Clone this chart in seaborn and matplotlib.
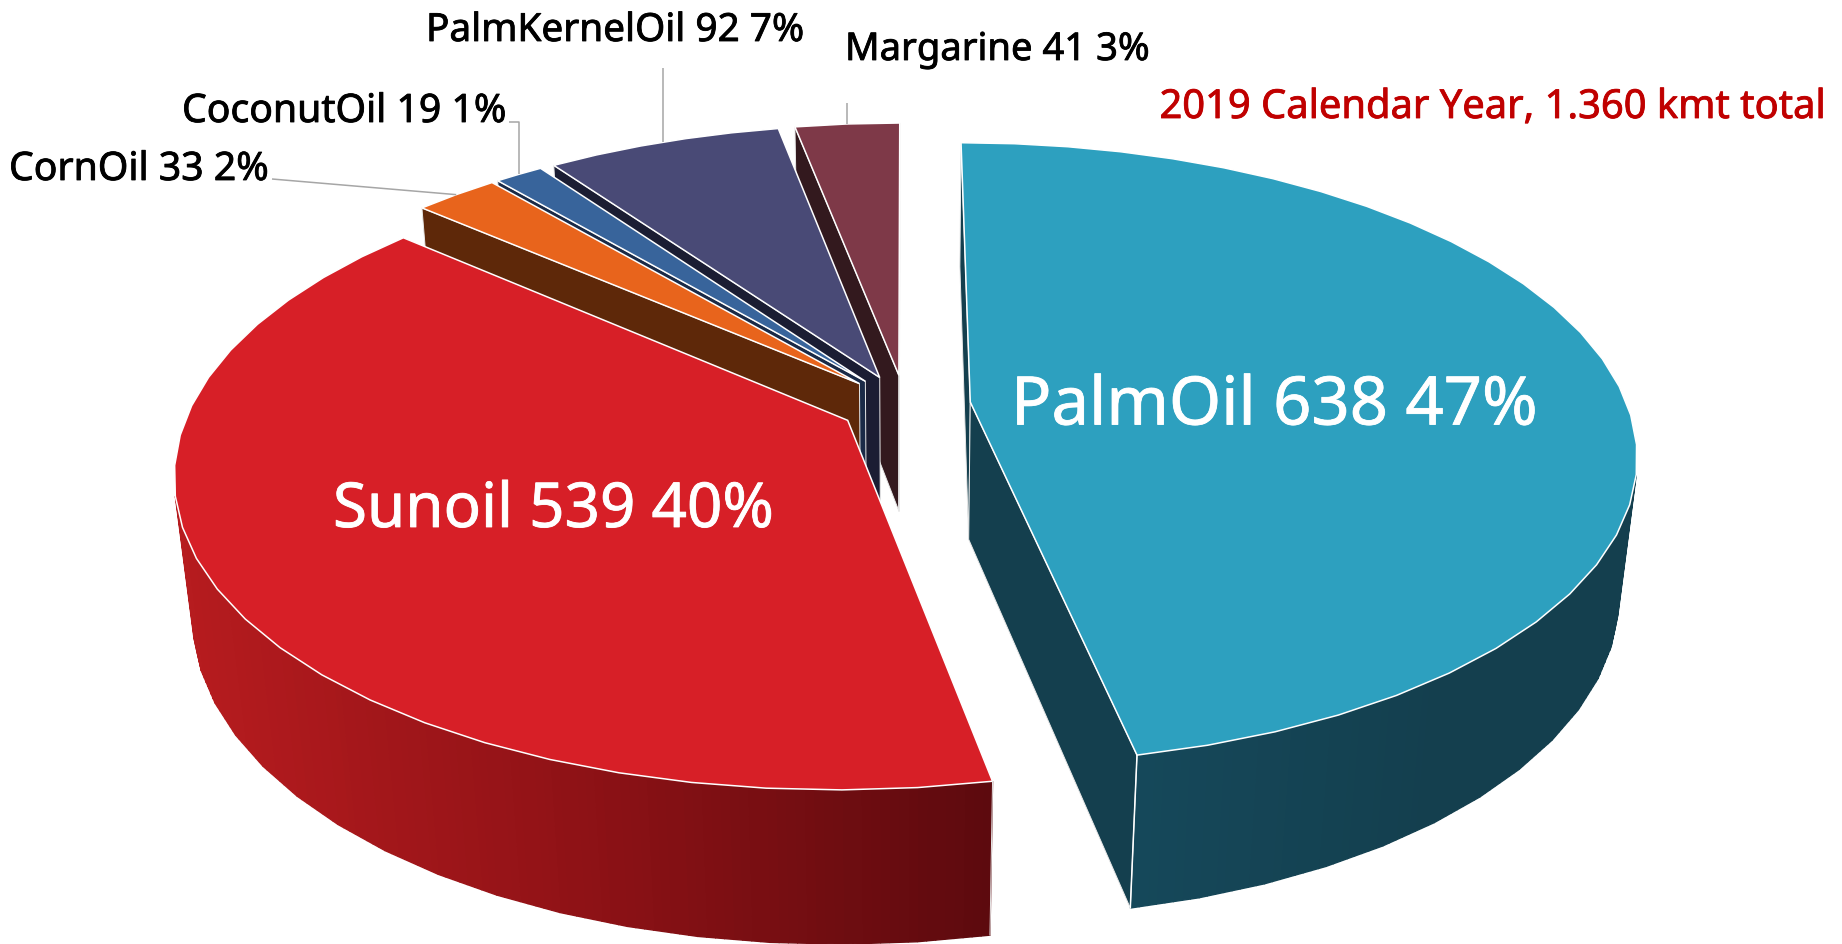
# Exploded 3D pie of oil usage, drawn as projected polygons on a pixel-sized axes

import numpy as np
import matplotlib
matplotlib.use("Agg")
import matplotlib.pyplot as plt
import matplotlib.patheffects as pe
import seaborn as sns

names = ["PalmOil", "Sunoil", "CornOil", "CoconutOil", "PalmKernelOil", "Margarine"]
values = [638, 539, 33, 19, 92, 41]
percents = [47, 40, 2, 1, 7, 3]
top_colors = ["#2da0bf", "#d71f27", "#e8641c", "#38649b", "#494a76", "#7e3948"]
wall_colors = ["#143f4e", "#5d0a0e", "#5e2809", "#1a2a47", "#1b1d33", "#33191e"]
title_text = "2019 Calendar Year, 1.360 kmt total"

sns.set_theme(style="white")
plt.rcParams["font.family"] = ["Noto Sans", "DejaVu Sans"]

# ---------- Projection settings (all in output pixels) ----------
CX, CY = 905, 405
RADIUS = 657
RADIUS_Y = 303
DEPTH = 141
PERSP = 0.165
PERSP_Z = 0.025
EXPLODE = 0.1
STRIPS = 8


def project(u, v, z):
    w = 1 / (1 - PERSP * v + PERSP_Z * z)
    return CX + RADIUS * u * w, CY + (RADIUS_Y * v + DEPTH * z) * w


def slice_outline(start, end):
    mid = np.radians((start + end) / 2)
    du, dv = EXPLODE * np.sin(mid), -EXPLODE * np.cos(mid)
    steps = max(2, int(np.ceil((end - start) / 5.5)))
    angles = np.radians(np.linspace(start, end, steps + 1))
    us = np.concatenate([[du], du + np.sin(angles)])
    vs = np.concatenate([[dv], dv - np.cos(angles)])
    return us, vs


def quad_area(px, py):
    return 0.5 * np.sum(px * np.roll(py, -1) - np.roll(px, -1) * py)


fig, ax = plt.subplots(figsize=(18.42, 9.44), dpi=100)
fig.subplots_adjust(0, 0, 1, 1)
ax.set_xlim(0, 1842)
ax.set_ylim(944, 0)
ax.axis("off")

red_wall = sns.blend_palette(["#5d0a0e", "#8f1216", "#b81c1f"], 80)
teal_wall = sns.blend_palette(["#15485a", "#143f4e"], 80)

shares = np.array(values) / np.sum(values) * 360
starts = np.concatenate([[0], np.cumsum(shares)[:-1]])
ends = np.cumsum(shares)

# back slices first, so the big front ones paint over them
for i in [5, 4, 3, 2, 1, 0]:
    us, vs = slice_outline(starts[i], ends[i])
    n = len(us)
    for a in range(n):
        b = (a + 1) % n
        ux = np.array([us[a], us[b], us[b], us[a]])
        vx = np.array([vs[a], vs[b], vs[b], vs[a]])
        px, py = project(ux, vx, np.array([0, 0, 1, 1]))
        if quad_area(px, py) >= 0:
            continue
        if a == 0 or b == 0:
            # straight cut faces, flat colour with a light edge
            ax.fill(px, py, facecolor=wall_colors[i], edgecolor="#e8e8e8", lw=0.7)
            continue
        # rim faces, split into thin strips so the shading runs smoothly
        for k in range(STRIPS):
            t0, t1 = k / STRIPS, (k + 1) / STRIPS
            su0, sv0 = us[a] + (us[b] - us[a]) * t0, vs[a] + (vs[b] - vs[a]) * t0
            su1, sv1 = us[a] + (us[b] - us[a]) * t1, vs[a] + (vs[b] - vs[a]) * t1
            qx, qy = project(np.array([su0, su1, su1, su0]), np.array([sv0, sv1, sv1, sv0]),
                             np.array([0, 0, 1, 1]))
            color = wall_colors[i]
            if i == 1:
                pos = (qx.mean() - project(us[1], vs[1], 0)[0]) / (-830)
                color = red_wall[int(np.clip(pos, 0, 0.999) * 80)]
            elif i == 0:
                pos = (qx.mean() - project(us[-1], vs[-1], 0)[0]) / 300
                color = teal_wall[int(np.clip(pos, 0, 0.999) * 80)]
            ax.fill(qx, qy, color=color, lw=1.0)
    tx, ty = project(us, vs, 0 * us)
    ax.fill(tx, ty, facecolor=top_colors[i], edgecolor="white", lw=1.1, joinstyle="miter")
    if i == 1:
        # front corner where the Sunoil wall meets its cut edge
        ax.plot(*project(np.array([us[1], us[1]]), np.array([vs[1], vs[1]]), np.array([0, 1])),
                color="#e8e8e8", lw=0.7)
    if i == 0:
        ax.plot(*project(np.array([us[-1], us[-1]]), np.array([vs[-1], vs[-1]]), np.array([0, 1])),
                color="white", lw=1.1)

labels = [f"{n} {v} {p}%" for n, v, p in zip(names, values, percents)]


# ---------- Labels ----------
def put_label(x, y, text, color, size, ha="left"):
    t = ax.text(x, y, text, color=color, fontsize=size, ha=ha, va="center")
    t.set_path_effects([pe.withStroke(linewidth=0.6, foreground=color)])


put_label(1011, 407, labels[0], "white", 48.2)
put_label(333, 511, labels[1], "white", 44.6)
put_label(9, 170, labels[2], "black", 28.2)
put_label(182, 112, labels[3], "black", 28.2)
put_label(426, 31, labels[4], "black", 27.9)
put_label(845, 50, labels[5], "black", 27.5)
put_label(1826, 108, title_text, "#c00000", 28.7, ha="right")


# ---------- Leader lines to the middle of each small slice's rim ----------
def rim_point(i):
    c = np.radians((starts[i] + ends[i]) / 2)
    du, dv = EXPLODE * np.sin(c), -EXPLODE * np.cos(c)
    return project(du + np.sin(c), dv - np.cos(c), 0)


leader = {"color": "#a6a6a6", "lw": 1.1, "solid_capstyle": "butt"}
x, y = rim_point(2)
ax.plot([272, x], [179, y], **leader)
x, y = rim_point(3)
ax.plot([509, x, x], [122, 122, y], **leader)
x, y = rim_point(4)
ax.plot([x, x], [68, y], **leader)
x, y = rim_point(5)
ax.plot([x, x], [103, y], **leader)

plt.savefig("out.png", dpi=100)
plt.close()
